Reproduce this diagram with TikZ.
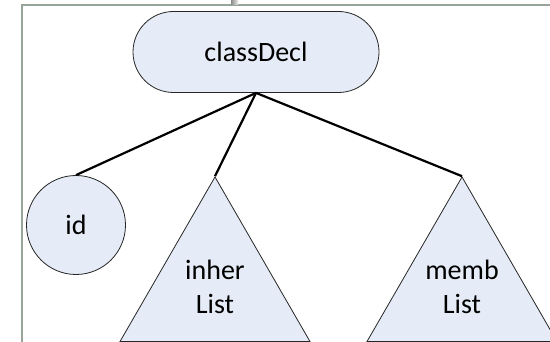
\documentclass[tikz,border=0pt]{standalone}
\usepackage{fontspec}
\setmainfont{Carlito}
\usetikzlibrary{shapes.geometric}
\definecolor{nodefill}{RGB}{230,236,247}
\definecolor{framecol}{RGB}{150,164,154}
\tikzset{
  shapebox/.style={draw=black!85, line width=0.8pt, fill=nodefill,
    font=\fontsize{28}{34}\selectfont, align=center, inner sep=0pt},
  declbox/.style={shapebox, rectangle, rounded corners=40.5pt,
    minimum width=246pt, minimum height=81pt},
  leafbox/.style={shapebox, circle, minimum size=99pt},
  subtree/.style={shapebox, regular polygon, regular polygon sides=3,
    minimum size=219.4pt},
  edge/.style={draw=black, line width=2.2pt}
}
\begin{document}
\begin{tikzpicture}[x=1pt,y=1pt]
\useasboundingbox (0,0) rectangle (550,342);
\clip (0,0) rectangle (550,342);
\fill[white] (0,0) rectangle (550,342);
% frame around the slide area
\draw[framecol, line width=2pt] (21.5,0) -- (21.5,336.5) -- (550,336.5);
\shade[left color=black!45, right color=black!8] (231,337.5) rectangle (238,342);
% tree nodes
\node[declbox] (decl) at (256,290) {classDecl};
\node[leafbox] (ident) at (76,117) {id};
\node[subtree] (inher) at (215,55.3) {inher\\List};
\node[subtree] (memb) at (462,55.3) {memb\\List};
% connectors
\draw[edge] (decl.south) -- (ident.north);
\draw[edge] (decl.south) -- (inher.corner 1);
\draw[edge] (decl.south) -- (memb.corner 1);
\end{tikzpicture}
\end{document}
